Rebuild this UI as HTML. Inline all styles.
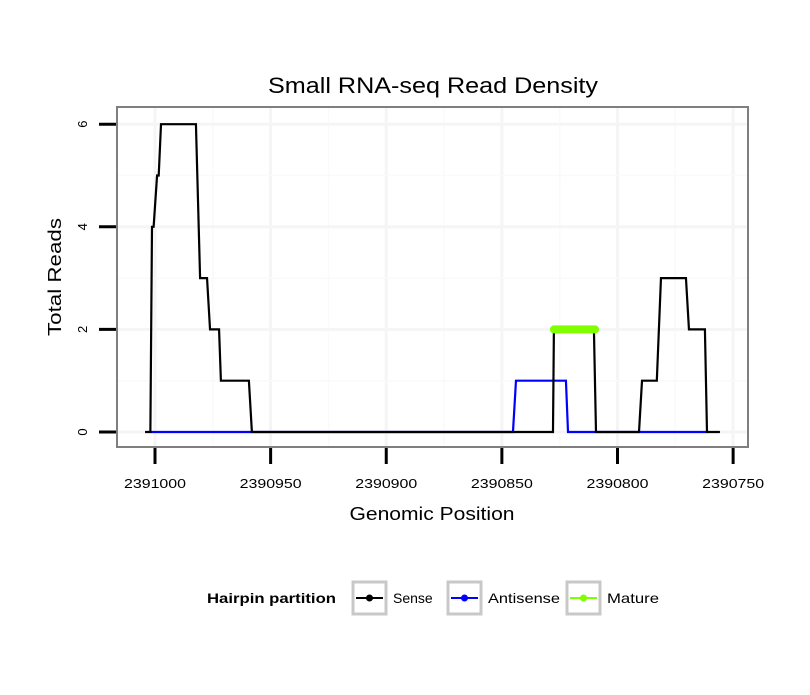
<!DOCTYPE html>
<html><head><meta charset="utf-8"><style>
body{margin:0;background:#fff;font-family:"Liberation Sans",sans-serif}
</style></head><body>
<svg id="chart" width="810" height="690" xmlns="http://www.w3.org/2000/svg" font-family="Liberation Sans, sans-serif">
<rect width="810" height="690" fill="#fff"/>
<text x="433" y="93" font-size="22" text-anchor="middle" textLength="330" lengthAdjust="spacingAndGlyphs">Small RNA-seq Read Density</text>
<g id="grid"></g>
<g id="series"></g>
<rect x="117" y="107" width="631" height="340" fill="none" stroke="#7f7f7f" stroke-width="2"/>
<g id="axes"></g>
<text x="432" y="520" font-size="18" text-anchor="middle" textLength="165" lengthAdjust="spacingAndGlyphs">Genomic Position</text>
<text transform="translate(61,277) rotate(-90)" font-size="18" text-anchor="middle" textLength="118" lengthAdjust="spacingAndGlyphs">Total Reads</text>
<g>
<text x="207" y="603" font-size="14" font-weight="bold" textLength="129" lengthAdjust="spacingAndGlyphs">Hairpin partition</text>
<g>
<rect x="353" y="582" width="33" height="32" fill="none" stroke="#c8c8c8" stroke-width="3"/>
<line x1="356" y1="598" x2="383" y2="598" stroke="#000" stroke-width="2"/><circle cx="369.5" cy="598" r="3.5" fill="#000"/>
<text x="393" y="603" font-size="14">Sense</text></g>
<g>
<rect x="448" y="582" width="33" height="32" fill="none" stroke="#c8c8c8" stroke-width="3"/>
<line x1="451" y1="598" x2="478" y2="598" stroke="#0000ff" stroke-width="2"/><circle cx="464.5" cy="598" r="3.5" fill="#0000ff"/>
<text x="488" y="603" font-size="14" textLength="72" lengthAdjust="spacingAndGlyphs">Antisense</text></g>
<g>
<rect x="567" y="582" width="33" height="32" fill="none" stroke="#c8c8c8" stroke-width="3"/>
<line x1="570" y1="598" x2="597" y2="598" stroke="#7fff00" stroke-width="2"/><circle cx="583.5" cy="598" r="3.5" fill="#7fff00"/>
<text x="607" y="603" font-size="14" textLength="52" lengthAdjust="spacingAndGlyphs">Mature</text></g>
</g>
</svg>
<script>
const xTicks=[2391000,2390950,2390900,2390850,2390800,2390750];
const yTicks=[0,2,4,6];
const sensePos=[2391004.3,2391002,2391001.3,2391000.6,2390999.1,2390998.4,2390997.4,2390982.3,2390980.5,2390977.5,2390976.2,2390972.3,2390971.5,2390959.4,2390958.1,2390827.9,2390827.5,2390810.2,2390809.3,2390790.7,2390789.4,2390783,2390781.2,2390770.4,2390769.1,2390762.2,2390761.3,2390755.7];
const senseReads=[0,0,4,4,5,5,6,6,3,3,2,2,1,1,0,0,2,2,0,0,1,1,3,3,2,2,0,0];
const antiPos=[2391002,2390845.2,2390843.9,2390822.3,2390821.4,2390761.3];
const antiReads=[0,0,1,1,0,0];
const maturePos=[2390827.5,2390809.7];
const matureReads=[2,2];
const X=v=>155+(2391000-v)*2.3125;
const Y=v=>432-v*51.3;
const NS="http://www.w3.org/2000/svg";
function mk(p,t,a){const e=document.createElementNS(NS,t);for(const k in a)e.setAttribute(k,a[k]);p.appendChild(e);return e;}
const grid=document.getElementById('grid'),axes=document.getElementById('axes'),ser=document.getElementById('series');
for(let i=0;i<xTicks.length;i++){
 const x=X(xTicks[i]);
 const g=mk(grid,'line',{x1:x,x2:x,y1:108,y2:446,stroke:'#f5f5f5','stroke-width':3});
 
 
 if(i<xTicks.length-1){const xm=X((xTicks[i]+xTicks[i+1])/2);const gm=mk(grid,'line',{x1:xm,x2:xm,y1:108,y2:446,stroke:'#fafafa','stroke-width':1.5});
 
 }
 const t=mk(axes,'line',{x1:x,x2:x,y1:448,y2:464,stroke:'#000','stroke-width':3});
 
 
 const l=mk(axes,'text',{x:x,y:488,'font-size':13,'text-anchor':'middle',textLength:62,lengthAdjust:'spacingAndGlyphs'});l.textContent=xTicks[i];
 
 
}
for(let i=0;i<yTicks.length;i++){
 const y=Y(yTicks[i]);
 const g=mk(grid,'line',{x1:118,x2:747,y1:y,y2:y,stroke:'#f5f5f5','stroke-width':3});
 
 
 if(i<yTicks.length-1){const ym=Y((yTicks[i]+yTicks[i+1])/2);const gm=mk(grid,'line',{x1:118,x2:747,y1:ym,y2:ym,stroke:'#fafafa','stroke-width':1.5});
 
 }
 const t=mk(axes,'line',{x1:99,x2:116,y1:y,y2:y,stroke:'#000','stroke-width':3});
 
 
 const l=mk(axes,'text',{transform:`translate(87,${y}) rotate(-90)`,'font-size':13,'text-anchor':'middle'});l.textContent=yTicks[i];
 
 
}
function line(pos,vals,color,w,name,cap){
 const pts=pos.map((p,i)=>X(p)+','+Y(vals[i])).join(' ');
 const e=mk(ser,'polyline',{points:pts,fill:'none',stroke:color,'stroke-width':w,'stroke-linecap':cap||'butt','stroke-linejoin':'miter'});
 
 
}
line(antiPos,antiReads,'#0000ff',2.2,'antisense-line');
line(sensePos,senseReads,'#000',2.2,'sense-line');
line(maturePos,matureReads,'#7fff00',8,'mature-line','round');
</script>
</body></html>
